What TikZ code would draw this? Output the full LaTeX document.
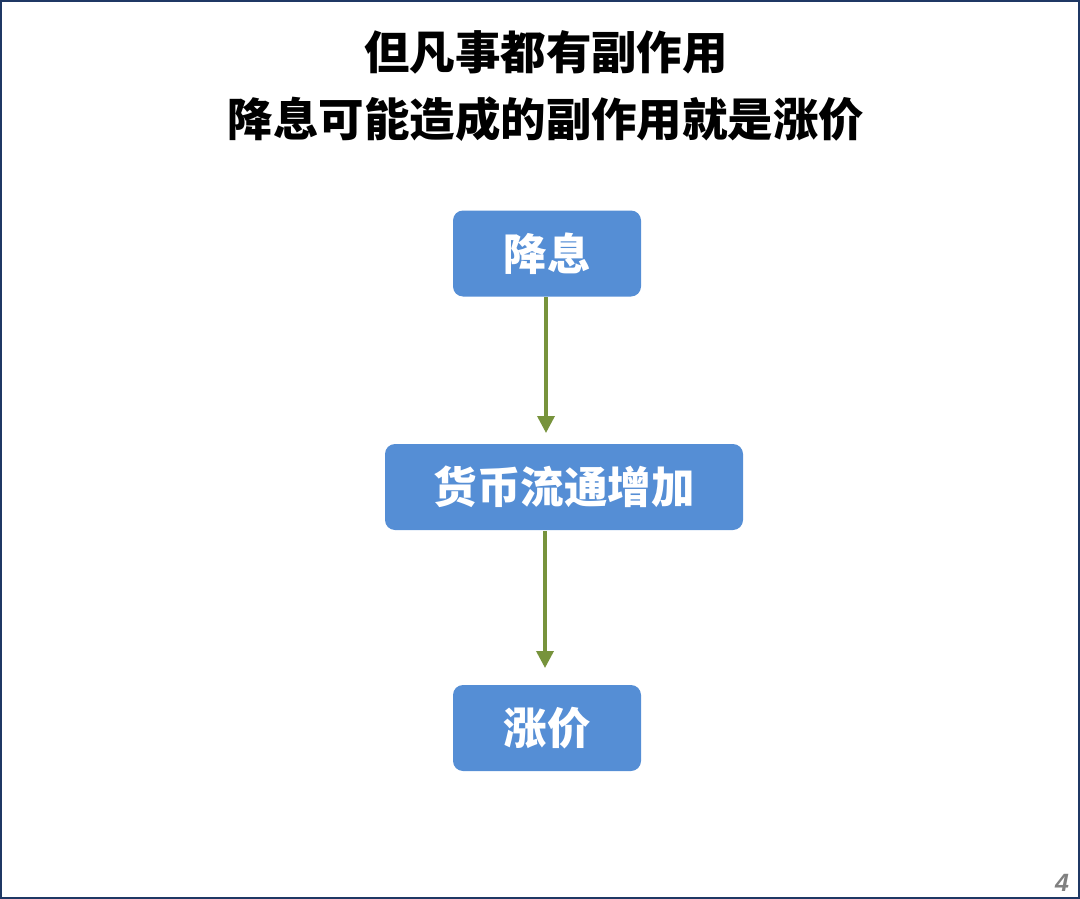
\documentclass[tikz,border=0pt]{standalone}
\usepackage{fontspec}
\setmainfont{Liberation Sans}
\newfontfamily\cjk{Noto Sans CJK SC}
\usetikzlibrary{arrows.meta}
\definecolor{boxblue}{HTML}{558ED5}
\definecolor{arrgreen}{HTML}{77933C}
\definecolor{frameblue}{HTML}{1F3864}
\tikzset{
  flowbox/.style={rectangle, rounded corners=10pt, fill=boxblue, draw=none, text=white,
    font=\cjk\bfseries\fontsize{43.5}{46}\selectfont, inner sep=0pt, minimum height=86pt},
  flowarrow/.style={draw=arrgreen, line width=3.5pt, -{Triangle[length=17pt,width=17pt]}},
  titletext/.style={font=\cjk\bfseries\fontsize{45.5}{67}\selectfont, align=center, text=black}
}
\begin{document}
\begin{tikzpicture}[x=1pt,y=-1pt]
\useasboundingbox (0,0) rectangle (1080,899);
\draw[frameblue, line width=2.5pt] (1,1) rectangle (1079,898);
\node[titletext] (title) at (546,86) {但凡事都有副作用\\降息可能造成的副作用就是涨价};
\node[flowbox, minimum width=188pt] (a) at (547,253.5) {降息};
\node[flowbox, minimum width=358pt] (b) at (564,487) {货币流通增加};
\node[flowbox, minimum width=188pt] (c) at (547,728) {涨价};
\coordinate (a1) at (546,297);
\coordinate (a2) at (546,433);
\coordinate (b1) at (545,531);
\coordinate (b2) at (545,668);
\draw[flowarrow] (a1) -- (a2);
\draw[flowarrow] (b1) -- (b2);
\node[font=\bfseries\itshape\fontsize{25}{25}\selectfont, text=gray] (pg) at (1062,883) {4};
\end{tikzpicture}
\end{document}
